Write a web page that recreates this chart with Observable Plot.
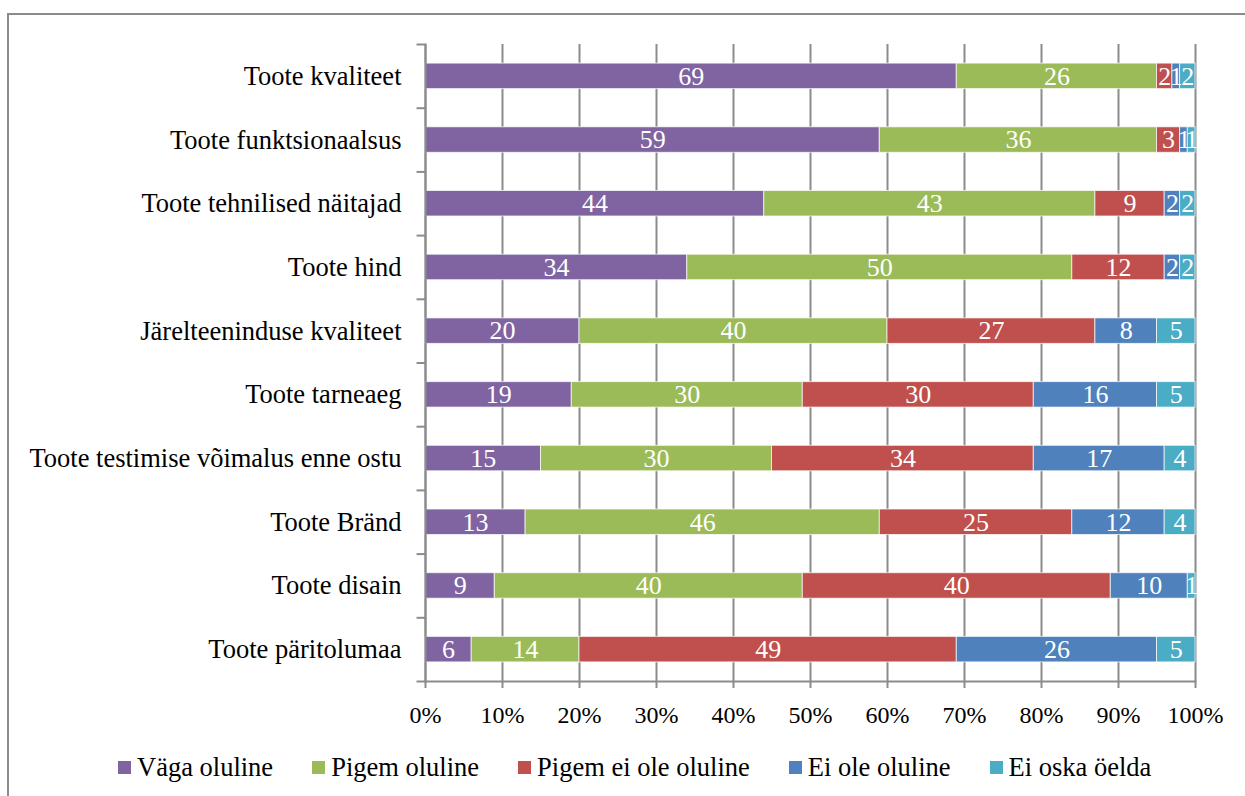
<!DOCTYPE html>
<html>
<head>
<meta charset="utf-8">
<script src="https://cdn.jsdelivr.net/npm/d3@7"></script>
<script src="https://cdn.jsdelivr.net/npm/@observablehq/plot@0.6"></script>
<style>
  body { margin: 0; background: #fff; font-family: "Liberation Serif", "Times New Roman", serif; }
  #border { position: absolute; left: 7px; top: 13px; width: 1400px; height: 900px;
            border-top: 2px solid #8c8c8c; border-left: 2px solid #8c8c8c; }
  #chart { position: absolute; left: 0; top: 0; }
  #legend { position: absolute; left: 118px; top: 752px; display: flex; gap: 39px;
            font-size: 26.5px; line-height: 30px; color: #000; white-space: nowrap; }
  #legend .item { display: flex; align-items: center; gap: 6px; }
  #legend .sw { width: 13px; height: 13px; display: inline-block; }
</style>
</head>
<body>
<div id="border"></div>
<div id="chart"></div>
<div id="legend"></div>
<script>
// Survey: how important each product attribute is (% of respondents)
const categories = [
  "Toote kvaliteet",
  "Toote funktsionaalsus",
  "Toote tehnilised näitajad",
  "Toote hind",
  "Järelteeninduse kvaliteet",
  "Toote tarneaeg",
  "Toote testimise võimalus enne ostu",
  "Toote Bränd",
  "Toote disain",
  "Toote päritolumaa"
];
const seriesNames = ["Väga oluline", "Pigem oluline", "Pigem ei ole oluline", "Ei ole oluline", "Ei oska öelda"];
const seriesColors = ["#8064A2", "#9BBB59", "#C0504D", "#4F81BD", "#4BACC6"];

const vagaOluline       = [69, 59, 44, 34, 20, 19, 15, 13,  9,  6];
const pigemOluline      = [26, 36, 43, 50, 40, 30, 30, 46, 40, 14];
const pigemEiOleOluline = [ 2,  3,  9, 12, 27, 30, 34, 25, 40, 49];
const eiOleOluline      = [ 1,  1,  2,  2,  8, 16, 17, 12, 10, 26];
const eiOskaOelda       = [ 2,  1,  2,  2,  5,  5,  4,  4,  1,  5];

const xTicks = [0, 10, 20, 30, 40, 50, 60, 70, 80, 90, 100];

const seriesValues = [vagaOluline, pigemOluline, pigemEiOleOluline, eiOleOluline, eiOskaOelda];

// Long table: one row per (category, answer)
const rows = [];
categories.forEach((c, i) => {
  seriesNames.forEach((s, j) => rows.push({category: c, answer: s, value: seriesValues[j][i]}));
});

const W = 1245, H = 740;
const mTop = 44, mBottom = 59, mLeft = 425, mRight = 50;
const step = (H - mTop - mBottom) / categories.length; // band step (inner 0.6, outer 0.3)
const gray = "#8c8c8c";

const stackOpts = {x: "value", y: "category", z: "answer"};

const chart = Plot.plot({
  width: W,
  height: H,
  marginTop: mTop,
  marginBottom: mBottom,
  marginLeft: mLeft,
  marginRight: mRight,
  style: {fontFamily: '"Liberation Serif", "Times New Roman", serif', fontSize: "26.5px", color: "#000", background: "transparent"},
  x: {domain: [0, 100]},
  y: {domain: categories, paddingInner: 0.6, paddingOuter: 0.3, round: false},
  color: {domain: seriesNames, range: seriesColors},
  marks: [
    Plot.gridX(xTicks, {stroke: gray, strokeOpacity: 1, strokeWidth: 2}),
    Plot.barX(rows, Plot.stackX({...stackOpts, fill: "answer", stroke: "white", strokeWidth: 1, strokeOpacity: 0.7})),
    Plot.textX(rows, Plot.stackX({...stackOpts, text: "value", fill: "white", fontSize: 26})),
    Plot.frame({anchor: "bottom", stroke: gray, strokeWidth: 2}),
    Plot.frame({anchor: "left", stroke: gray, strokeWidth: 2}),
    // band boundary ticks on the category axis
    Plot.ruleY(categories, {y: d => d, dy: -step / 2, x1: -1.1, x2: 0, stroke: gray, strokeWidth: 2}),
    Plot.ruleY(categories.slice(-1), {y: d => d, dy: step / 2, x1: -1.1, x2: 0, stroke: gray, strokeWidth: 2}),
    Plot.axisX({ticks: xTicks, tickFormat: d => d + "%", tickSize: 7, tickPadding: 17, stroke: gray, strokeWidth: 2, fontSize: 24, label: null}),
    Plot.axisY({tickSize: 0, tickPadding: 24, fontSize: 26.5, label: null})
  ]
});
document.getElementById("chart").append(chart);

// Legend below the plot
const legend = document.getElementById("legend");
seriesNames.forEach((name, i) => {
  const item = document.createElement("span");
  item.className = "item";
  const sw = document.createElement("span");
  sw.className = "sw";
  sw.style.background = seriesColors[i];
  const label = document.createElement("span");
  label.textContent = name;
  item.append(sw, label);
  legend.append(item);
});
</script>
</body>
</html>
